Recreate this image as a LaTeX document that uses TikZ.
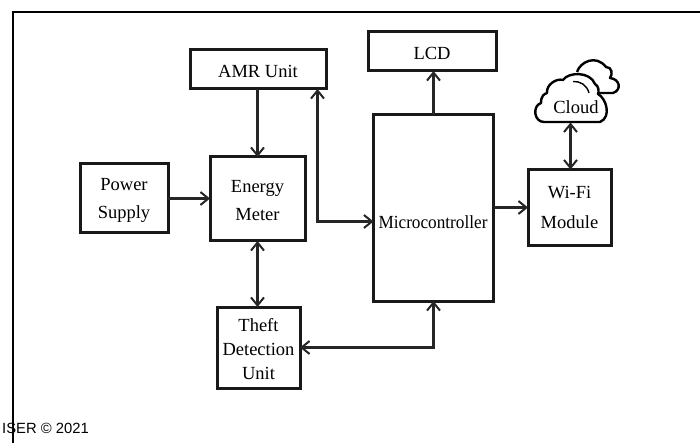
\documentclass[tikz,border=0pt]{standalone}
\usepackage{fontspec}
\setmainfont{Liberation Serif}
\newfontfamily\capfont{Liberation Sans}
\usetikzlibrary{arrows.meta,calc}
\tikzset{
  x=1pt,y=-1pt,
  barbtip/.tip={Straight Barb[length=8pt,width=13pt,line width=2pt]},
  blockbox/.style={draw=black!90,line width=3pt,fill=white,inner sep=0pt,outer sep=0pt},
  blocktext/.style={inner sep=0pt,align=center,yshift=-1.5pt,font=\fontsize{18.5}{28}\selectfont},
  conn/.style={draw=black!85,line width=2.6pt,barbtip-barbtip},
  oneway/.style={draw=black!85,line width=2.6pt,-barbtip},
  cloudline/.style={draw=black,line width=2.4pt,line join=round,fill=white},
  tight/.style={font=\fontsize{18.5}{24}\selectfont},
  wide/.style={yshift=1.5pt,font=\fontsize{18.5}{30}\selectfont}
}
\newcommand{\bx}[7][]{\node[blockbox,minimum width=#4 pt-#2 pt,minimum height=#5 pt-#3 pt,anchor=north west] (#6) at (#2,#3) {};
\node[blocktext,#1] (#6text) at (#6) {#7};}
\begin{document}
\begin{tikzpicture}
\useasboundingbox (0,0) rectangle (700,443);
\node[anchor=base east,inner sep=0pt,font=\capfont\fontsize{14.8}{16}\selectfont] (cap) at (89,433) {ISER © 2021};
\draw[black,line width=2pt] (700,12.5) -- (12.5,12.5) -- (12.5,443);
\bx{190}{50}{326}{89}{amr}{AMR Unit}
\bx{210}{157}{305}{241}{energy}{Energy\\Meter}
\bx{80}{164}{168}{233}{power}{Power\\Supply}
\bx[tight]{217}{307}{300}{388}{theft}{Theft\\Detection\\Unit}
\bx{373.5}{115}{493.5}{301}{micro}{}
\node[inner sep=0pt,font=\fontsize{18.5}{22}\selectfont] (microlabel) at (433,222) {\scalebox{0.93}[1]{Microcontroller}};
\bx{368}{32}{496}{71}{lcd}{LCD}
\bx[wide]{528}{169.5}{611}{245.5}{wifi}{Wi-Fi\\Module}
% cloud
\draw[cloudline] (577,72) .. controls (580,62) and (596,54) .. (606,67)
  .. controls (612,67) and (613,74) .. (610,78)
  .. controls (620,79) and (622,90) .. (613,93) -- (596,93);
\draw[cloudline] (544,122) .. controls (534,122) and (532,106) .. (541,103)
  .. controls (541,96) and (544,94) .. (547,93)
  .. controls (546,85) and (556,78) .. (563,80)
  .. controls (568,72) and (590,71) .. (595,84)
  .. controls (599,86) and (599,92) .. (598,94)
  .. controls (606,98) and (612,117) .. (600,122) -- cycle;
\draw[draw=black,line width=1.4pt] (573,81.5) .. controls (580,81) and (587,85) .. (589,93);
\node[inner sep=0pt,font=\fontsize{18.5}{20}\selectfont] (cloudlabel) at (576,107) {Cloud};
\coordinate (cloudbase) at (570.5,122.5);
% connectors
\coordinate (junction) at (317.5,221.5);
\draw[oneway] (energy.north |- amr.south) -- (energy.north);
\draw[oneway] (power.east) -- (energy.west |- power.east);
\draw[conn] (energy.south) -- (energy.south |- theft.north);
\draw[conn] (amr.south east -| junction) -- (junction) -- (junction -| micro.west);
\draw[oneway] (micro.east |- wifi.west) -- (wifi.west);
\draw[oneway] (micro.north) -- (micro.north |- lcd.south);
\draw[conn] (cloudbase) -- (cloudbase |- wifi.north);
\draw[conn] (theft.east) -| (micro.south);
\end{tikzpicture}
\end{document}
